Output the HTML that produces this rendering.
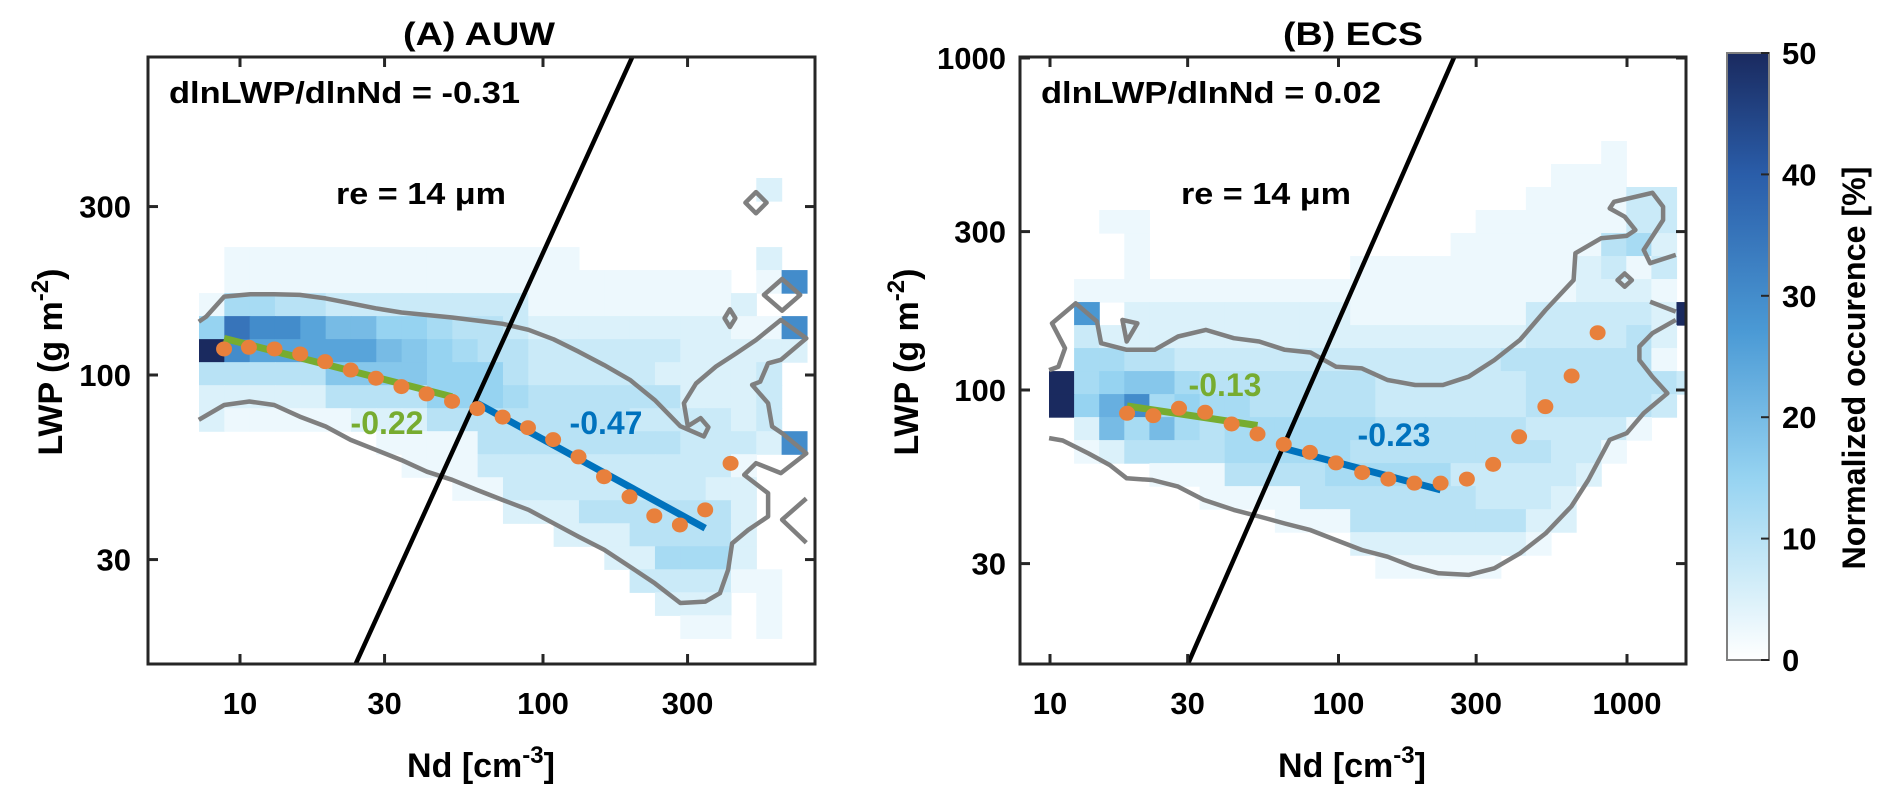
<!DOCTYPE html>
<html><head><meta charset="utf-8"><style>
html,body{margin:0;padding:0;background:#fff;overflow:hidden;width:1892px;height:795px;}
svg{display:block;font-family:"Liberation Sans",Arial,sans-serif;font-weight:bold;}
</style></head><body>
<svg id="chart" width="1892" height="795" viewBox="0 0 1892 795" xmlns="http://www.w3.org/2000/svg">
<defs>
<clipPath id="clipA"><rect x="148" y="57" width="667" height="607"/></clipPath>
<clipPath id="clipB"><rect x="1020" y="57" width="666" height="607"/></clipPath>
<linearGradient id="cbGrad" x1="0" y1="1" x2="0" y2="0">
<stop offset="0" stop-color="#ffffff"/><stop offset="0.14" stop-color="#cdebf8"/><stop offset="0.3" stop-color="#96d3f1"/><stop offset="0.54" stop-color="#4b9ad5"/><stop offset="0.8" stop-color="#2a5da9"/><stop offset="1" stop-color="#1a2a5f"/>
</linearGradient>
</defs>
<g id="layer"></g>
</svg>
<script>
// ---------- data ----------
const A_xTicks=[10,30,100,300];
const A_yTicks=[30,100,300];
const B_xTicks=[10,30,100,300,1000];
const B_yTicks=[30,100,300,1000];
const cbTicks=[0,10,20,30,40,50];
// heatmap rows (top->bottom), base36 char * 2.5 = %
const A_heat=[
"000000000000000000000020","000000000000000000000000","000000000000000000000000",
"011111111111111000000020","01111111111111111111101c","155443333333311111111200",
"6ecca886654432222222211c","kcaaaaa87654433333322222","444447777666433333222230",
"222224444666544444422230","211111222444444443333230","00000001111444444443332c",
"000000001113333333333100","000000000011333333332200","000000000000222444444200",
"000000000000002224444200","000000000000000022555200","000000000000000003333110",
"000000000000000000222010","000000000000000000011010"];
const B_heat=[
"0000000000000000000000100","0000000000000000000011100","0000000000000000000111133",
"0011000000000000011111133","0001000000000000111111452","0001000000001111111112313",
"0111111111111111111112221","0b02222222221111111333332k","0322222222222222222333342",
"0554433333333333334444441","k5677544444443333334444443","k69c5655444443333334444430",
"0285854555555444444333310","0124444555554444444433100","0000111444455555333332000",
"0000001111444444433320000","0000000001114444444220000","0000000000002222222100000",
"0000000000000111110000000"];
const A_ptNd=[8.86,10.7,13.0,15.8,19.1,23.2,28.1,34.1,41.3,50.1,60.7,73.6,89.2,108,131,159,193,233,283,343,416];
const A_ptLWP=[118.5,119.8,118.5,114.7,109.1,103.3,97.9,92.7,88.4,84.2,80.3,76.0,70.9,65.6,58.6,51.5,45.2,39.9,37.6,41.5,56.2];
const B_ptNd=[18.5,22.8,28.0,34.5,42.6,52.4,64.6,79.6,98.0,120.8,148.9,183.2,225.9,278.6,343.6,422.7,521.2,642.7,791];
const B_ptLWP=[85.1,83.7,88.1,85.7,79.0,73.7,68.6,64.9,60.3,56.4,53.9,52.4,52.4,53.9,59.7,72.3,89.1,110.2,148.8];
// fits: [startNd, startLWP, slope, endNd]
const A_fitGreen=[8.86,127,-0.22,50.1];
const A_fitBlue=[60.7,83.1,-0.47,343];
const B_fitGreen=[18.5,89.5,-0.13,52.4];
const B_fitBlue=[64.6,66.7,-0.23,225.9];
const A_reNd=[24.1,197], A_reLWP=[15.2,795];
const B_reNd=[30,251], B_reLWP=[14.9,1000];
// contours (log10 Nd, log10 LWP)
const A_contUpper=[[0.864,2.151],[0.888,2.165],[0.948,2.222],[1.034,2.229],[1.113,2.229],[1.197,2.227],[1.283,2.217],[1.365,2.203],[1.448,2.189],[1.533,2.177],[1.617,2.170],[1.700,2.163],[1.784,2.154],[1.867,2.145],[1.952,2.128],[2.035,2.101],[2.118,2.066],[2.202,2.028],[2.287,1.986],[2.369,1.929],[2.453,1.855],[2.531,1.826],[2.546,1.852],[2.520,1.878],[2.478,1.855],[2.465,1.920],[2.505,1.976],[2.571,2.024],[2.637,2.061],[2.703,2.099],[2.785,2.156],[2.869,2.104],[2.785,2.043],[2.743,2.033],[2.717,1.981],[2.690,1.972],[2.743,1.920],[2.756,1.854],[2.789,1.835],[2.869,1.778],[2.785,1.722],[2.703,1.750],[2.664,1.717],[2.743,1.665],[2.743,1.599],[2.677,1.561],[2.624,1.523],[2.611,1.448],[2.584,1.382],[2.536,1.358],[2.453,1.354],[2.369,1.410],[2.287,1.457],[2.202,1.505],[2.118,1.542],[2.035,1.580],[1.952,1.618],[1.867,1.646],[1.784,1.674],[1.700,1.703],[1.617,1.726],[1.533,1.759],[1.448,1.788],[1.365,1.816],[1.283,1.854],[1.197,1.882],[1.113,1.915],[1.031,1.925],[0.948,1.915],[0.864,1.873]];
const A_diamonds=[[2.703,2.488,0.035,0.03],[2.789,2.227,0.06,0.045],[2.617,2.161,0.018,0.025]];
const A_chevron=[[2.869,1.650],[2.789,1.590],[2.869,1.525]];
const B_contUpper=[[0.997,2.060],[1.029,2.070],[1.052,2.126],[1.007,2.201],[1.089,2.261],[1.163,2.206],[1.177,2.141],[1.266,2.121],[1.363,2.121],[1.444,2.161],[1.540,2.181],[1.637,2.156],[1.725,2.146],[1.814,2.121],[1.903,2.113],[1.992,2.070],[2.081,2.065],[2.170,2.030],[2.266,2.015],[2.362,2.015],[2.451,2.040],[2.540,2.090],[2.629,2.151],[2.718,2.241],[2.815,2.331],[2.821,2.412],[2.910,2.457],[2.999,2.464],[3.029,2.482],[2.992,2.522],[2.940,2.547],[2.955,2.567],[3.088,2.594],[3.125,2.552],[3.125,2.512],[3.058,2.422],[3.080,2.382],[3.169,2.407]];
const B_contLower=[[0.997,1.855],[1.044,1.848],[1.133,1.809],[1.207,1.774],[1.266,1.734],[1.355,1.729],[1.444,1.709],[1.533,1.669],[1.637,1.639],[1.725,1.619],[1.814,1.598],[1.903,1.578],[1.992,1.548],[2.081,1.518],[2.170,1.498],[2.259,1.468],[2.347,1.448],[2.451,1.443],[2.540,1.463],[2.629,1.508],[2.718,1.568],[2.807,1.649],[2.866,1.729],[2.940,1.850],[2.999,1.870],[3.058,1.930],[3.140,1.990],[3.088,2.040],[3.043,2.090],[3.043,2.131],[3.088,2.171],[3.169,2.211]];
const B_contRight=[[3.080,2.266],[3.169,2.236]];
const B_triangle=[[1.251,2.211],[1.303,2.201],[1.266,2.146],[1.251,2.211]];
const B_diamonds=[[2.992,2.331,0.025,0.02]];

// ---------- helpers ----------
const NS="http://www.w3.org/2000/svg";
const layer=document.getElementById('layer');
function mk(tag,attrs,parent){const e=document.createElementNS(NS,tag);for(const k in attrs)e.setAttribute(k,attrs[k]);(parent||layer).appendChild(e);return e;}
function colorOf(v){
 const st=[[0,[255,255,255]],[7,[205,235,248]],[15,[150,211,241]],[27,[75,154,213]],[40,[42,93,169]],[50,[26,42,95]]];
 v=Math.max(0,Math.min(50,v));
 for(let i=0;i<st.length-1;i++){if(v<=st[i+1][0]){const t=(v-st[i][0])/(st[i+1][0]-st[i][0]);const a=st[i][1],b=st[i+1][1];return 'rgb('+a.map((c,j)=>Math.round(c+(b[j]-c)*t)).join(',')+')';}}
 return 'rgb(26,42,95)';
}
function makeAxes(P){
 P.x=v=>P.left+(Math.log10(v)-P.lx0)/(P.lx1-P.lx0)*(P.right-P.left);
 P.y=v=>P.bottom-(Math.log10(v)-P.ly0)/(P.ly1-P.ly0)*(P.bottom-P.top);
 P.xl=l=>P.x(Math.pow(10,l)); P.yl=l=>P.y(Math.pow(10,l));
 return P;
}
const PA=makeAxes({left:148,right:815,top:57,bottom:664,lx0:0.6964,lx1:2.8977,ly0:1.1813,ly1:2.9008});
const PB=makeAxes({left:1020,right:1686,top:57,bottom:664,lx0:0.896,lx1:3.2045,ly0:1.1747,ly1:3.003});

function drawPanel(P,id,heat,hx0,hdx,hy0,hdy,clip){
 const g=mk('g',{'clip-path':'url(#'+clip+')'});
 
 
 const hg=mk('g',{},g);
 
 
 heat.forEach((row,r)=>{for(let c=0;c<row.length;c++){const v=parseInt(row[c],36)*2.5;if(!v)continue;
  const xa=P.xl(hx0+c*hdx),xb=P.xl(hx0+(c+1)*hdx),ya=P.yl(hy0-r*hdy),yb=P.yl(hy0-(r+1)*hdy);
  const cell=mk('rect',{x:xa,y:ya,width:xb-xa+0.6,height:yb-ya+0.6,fill:colorOf(v)},hg);
  
  
 }});
 return g;
}
let P_cur=PA;
function poly(g,pts,name,closed){
 const d=pts.map((p,i)=>(i?'L':'M')+P_cur.xl(p[0]).toFixed(1)+','+P_cur.yl(p[1]).toFixed(1)).join('')+(closed?'Z':'');
 const e=mk('path',{d:d,fill:'none',stroke:'#7f7f7f','stroke-width':4.5,'stroke-linejoin':'round'},g);
 
 
}
function diamonds(g,arr,name){arr.forEach(d=>poly(g,[[d[0]-d[2],d[1]],[d[0],d[1]+d[3]],[d[0]+d[2],d[1]],[d[0],d[1]-d[3]]],name,true));}
function fitLine(g,P,f,color,name){
 const y2=f[1]*Math.pow(f[3]/f[0],f[2]);
 const e=mk('line',{x1:P.x(f[0]),y1:P.y(f[1]),x2:P.x(f[3]),y2:P.y(y2),stroke:color,'stroke-width':7},g);
 
 
}
function reLine(g,P,nd,lw,name){
 const s=Math.log10(lw[1]/lw[0])/Math.log10(nd[1]/nd[0]);
 const a=nd[0]*0.1, b=nd[1]*10;
 const e=mk('line',{x1:P.x(a),y1:P.y(lw[0]*Math.pow(a/nd[0],s)),x2:P.x(b),y2:P.y(lw[0]*Math.pow(b/nd[0],s)),stroke:'#000','stroke-width':4.5},g);
 
 
}
function points(g,P,nd,lw,name){
 nd.forEach((v,i)=>{const e=mk('ellipse',{cx:P.x(v),cy:P.y(lw[i]),rx:8,ry:7.5,fill:'#e8803c'},g);
  
  });
}
function txt(s,x,y,opt,name){
 const e=mk('text',Object.assign({x:x,y:y,'font-size':31,fill:'#000'},opt||{}));
 e.textContent=s;
 
 
 return e;
}
function frame(P,id,xt,yt,labRight){
 const f=mk('rect',{x:P.left,y:P.top,width:P.right-P.left,height:P.bottom-P.top,fill:'none',stroke:'#262626','stroke-width':3});
 
 
 xt.forEach(v=>{const X=P.x(v);
  mk('line',{x1:X,y1:P.bottom,x2:X,y2:P.bottom-10,stroke:'#262626','stroke-width':3});
  mk('line',{x1:X,y1:P.top,x2:X,y2:P.top+10,stroke:'#262626','stroke-width':3});
  txt(String(v),X,714,{'text-anchor':'middle'},'x-tick-label');});
 yt.forEach(v=>{const Y=P.y(v);
  mk('line',{x1:P.left,y1:Y,x2:P.left+10,y2:Y,stroke:'#262626','stroke-width':3});
  mk('line',{x1:P.right,y1:Y,x2:P.right-10,y2:Y,stroke:'#262626','stroke-width':3});
  txt(String(v),labRight,Y+11,{'text-anchor':'end'},'y-tick-label');});
}

// ---------- panel A ----------
P_cur=PA;
let gA=drawPanel(PA,'a',A_heat,0.8647,0.0836,2.558,0.0652,'clipA');
poly(gA,A_contUpper,'contour-a',false);
diamonds(gA,A_diamonds,'contour-a-island');
poly(gA,A_chevron,'contour-a-edge',false);
reLine(gA,PA,A_reNd,A_reLWP,'re-14um-line-a');
fitLine(gA,PA,A_fitGreen,'#77ac30','fit-line-low-a');
fitLine(gA,PA,A_fitBlue,'#0072bd','fit-line-high-a');
points(gA,PA,A_ptNd,A_ptLWP,'binned-mean-point-a');
frame(PA,'a',A_xTicks,A_yTicks,131);

// ---------- panel B ----------
P_cur=PB;
let gB=drawPanel(PB,'b',B_heat,0.9965,0.0870,2.75,0.0693,'clipB');
poly(gB,B_contUpper,'contour-b-upper',false);
poly(gB,B_contLower,'contour-b-lower',false);
poly(gB,B_contRight,'contour-b-edge',false);
poly(gB,B_triangle,'contour-b-island',true);
diamonds(gB,B_diamonds,'contour-b-island');
reLine(gB,PB,B_reNd,B_reLWP,'re-14um-line-b');
fitLine(gB,PB,B_fitGreen,'#77ac30','fit-line-low-b');
fitLine(gB,PB,B_fitBlue,'#0072bd','fit-line-high-b');
points(gB,PB,B_ptNd,B_ptLWP,'binned-mean-point-b');
frame(PB,'b',B_xTicks,B_yTicks,1006);

// ---------- annotations ----------
txt('(A) AUW',479,45,{'text-anchor':'middle','font-size':32,textLength:152,lengthAdjust:'spacingAndGlyphs'},'title-a');
txt('(B) ECS',1353,45,{'text-anchor':'middle','font-size':32,textLength:140,lengthAdjust:'spacingAndGlyphs'},'title-b');
txt('dlnLWP/dlnNd = -0.31',169,103,{textLength:351,lengthAdjust:'spacingAndGlyphs'},'slope-annotation-a');
txt('dlnLWP/dlnNd = 0.02',1041,103,{textLength:340,lengthAdjust:'spacingAndGlyphs'},'slope-annotation-b');
txt('re = 14 μm',421,204,{'text-anchor':'middle',textLength:170,lengthAdjust:'spacingAndGlyphs'},'re-label-a');
txt('re = 14 μm',1266,204,{'text-anchor':'middle',textLength:170,lengthAdjust:'spacingAndGlyphs'},'re-label-b');
txt('-0.22',387,434,{'text-anchor':'middle',fill:'#77ac30','font-size':32},'fit-slope-low-a');
txt('-0.47',606,434,{'text-anchor':'middle',fill:'#0072bd','font-size':32},'fit-slope-high-a');
txt('-0.13',1225,396,{'text-anchor':'middle',fill:'#77ac30','font-size':32},'fit-slope-low-b');
txt('-0.23',1394,446,{'text-anchor':'middle',fill:'#0072bd','font-size':32},'fit-slope-high-b');

function xLabel(cx,name){const t=txt('',cx,777,{'text-anchor':'middle','font-size':34},name);
 t.innerHTML='Nd [cm<tspan dy="-14" font-size="24">-3</tspan><tspan dy="14">]</tspan>';}
xLabel(481,'x-axis-title-a');xLabel(1352,'x-axis-title-b');
function yLabel(cx,cy,name){const t=txt('',0,0,{'text-anchor':'middle','font-size':34,transform:'translate('+cx+','+cy+') rotate(-90)'},name);
 t.innerHTML='LWP (g m<tspan dy="-14" font-size="24">-2</tspan><tspan dy="14">)</tspan>';}
yLabel(62,362,'y-axis-title-a');yLabel(918,362,'y-axis-title-b');

// ---------- colorbar ----------
const cb=mk('rect',{x:1727,y:53,width:42,height:607,fill:'url(#cbGrad)',stroke:'#7f7f7f','stroke-width':2});


cbTicks.forEach(v=>{const Y=660-v/50*607;
 mk('line',{x1:1769,y1:Y,x2:1761,y2:Y,stroke:'#262626','stroke-width':2});
 txt(String(v),1782,Y+11,{},'colorbar-tick-label');});
txt('Normalized occurence [%]',0,0,{'text-anchor':'middle','font-size':32,transform:'translate(1865,368) rotate(-90)',textLength:403,lengthAdjust:'spacingAndGlyphs'},'colorbar-title');
</script>
</body></html>
